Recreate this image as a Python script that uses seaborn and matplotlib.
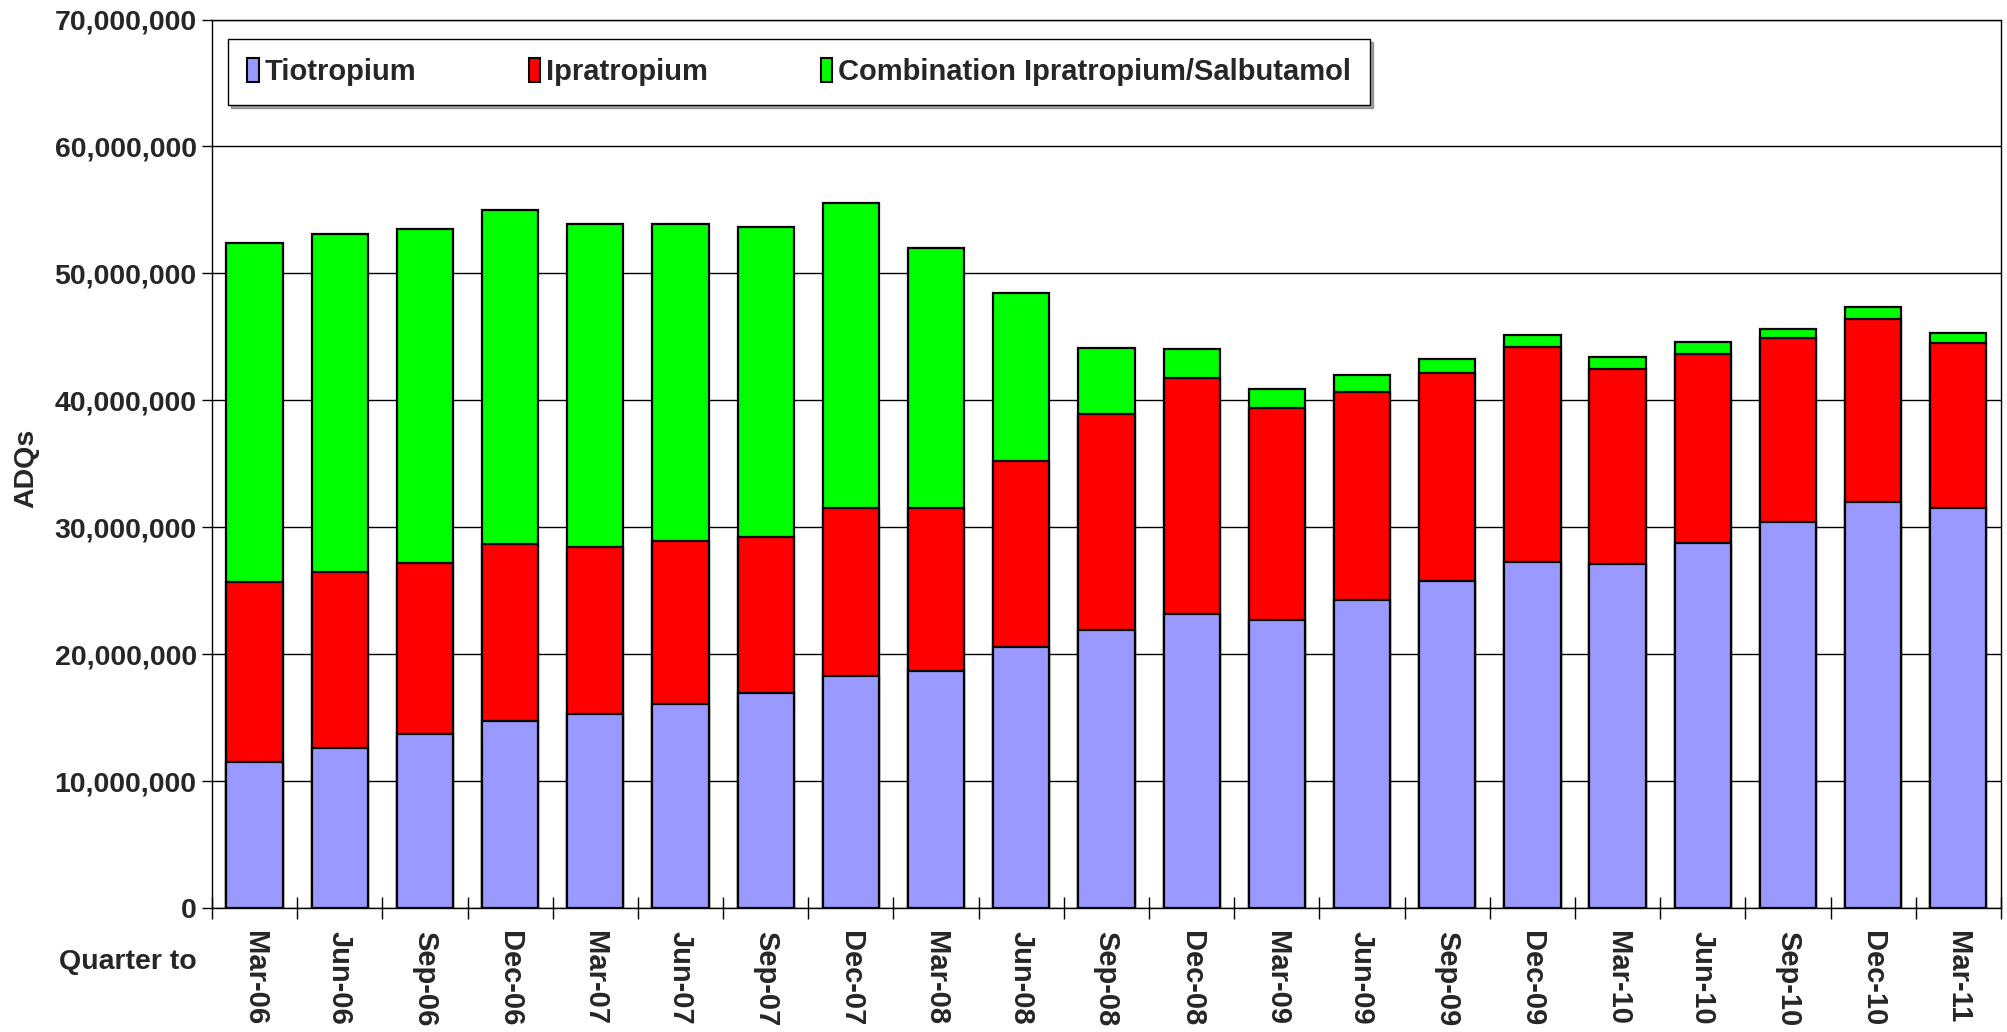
import numpy as np
import pandas as pd
import matplotlib
matplotlib.use("Agg")
import matplotlib.pyplot as plt
from matplotlib.patches import Patch
from matplotlib.ticker import FuncFormatter, FixedLocator
import seaborn as sns

# Quarterly ADQs
quarters = ["Mar-06", "Jun-06", "Sep-06", "Dec-06", "Mar-07", "Jun-07", "Sep-07",
            "Dec-07", "Mar-08", "Jun-08", "Sep-08", "Dec-08", "Mar-09", "Jun-09",
            "Sep-09", "Dec-09", "Mar-10", "Jun-10", "Sep-10", "Dec-10", "Mar-11"]
tiotropium = [11.5, 12.6, 13.7, 14.8, 15.35, 16.1, 17.0, 18.3, 18.7, 20.6, 21.9,
              23.2, 22.7, 24.3, 25.8, 27.3, 27.1, 28.8, 30.4, 32.0, 31.5]
ipratropium = [14.2, 13.9, 13.5, 13.9, 13.15, 12.8, 12.25, 13.2, 12.8, 14.6, 17.0,
               18.6, 16.7, 16.4, 16.4, 16.9, 15.4, 14.85, 14.55, 14.4, 13.05]
combination = [26.7, 26.6, 26.3, 26.3, 25.4, 25.0, 24.45, 24.05, 20.5, 13.3, 5.2,
               2.25, 1.5, 1.3, 1.1, 0.95, 0.95, 0.95, 0.7, 0.95, 0.75]

series_names = ["Tiotropium", "Ipratropium", "Combination Ipratropium/Salbutamol"]
series_colors = ["#9999FF", "#FF0000", "#00FF00"]

df = pd.DataFrame({
    "quarter": quarters,
    "tio": np.array(tiotropium) * 1e6,
    "ipr": np.array(ipratropium) * 1e6,
    "comb": np.array(combination) * 1e6,
})
df["tio_ipr"] = df["tio"] + df["ipr"]
df["total"] = df["tio_ipr"] + df["comb"]

sns.set_style("white")
narrow = ["Liberation Sans Narrow", "Liberation Sans", "DejaVu Sans"]
wide = ["Liberation Sans", "DejaVu Sans"]
plt.rcParams["font.family"] = narrow

fig = plt.figure(figsize=(20.07, 10.32), dpi=100)
ax = fig.add_axes([0.1056, 0.1197, 0.8914, 0.8614])

# stacked bars drawn as cumulative layers
for col, color in [("total", series_colors[2]), ("tio_ipr", series_colors[1]), ("tio", series_colors[0])]:
    sns.barplot(data=df, x="quarter", y=col, color=color, saturation=1,
                edgecolor="black", linewidth=1.6, width=0.66, ax=ax, zorder=3)

ax.set_xlim(-0.5, len(quarters) - 0.5)
ax.set_ylim(0, 70e6)
ax.set_yticks(np.arange(0, 70e6 + 1, 10e6))
ax.yaxis.set_major_formatter(FuncFormatter(lambda v, p: f"{int(v):,}"))
ax.grid(axis="y", color="black", linewidth=1.0, zorder=0)
ax.grid(axis="x", visible=False)
ax.set_axisbelow(True)
for s in ax.spines.values():
    s.set_visible(True)
    s.set_color("black")
    s.set_linewidth(1.0)

ax.tick_params(axis="y", which="major", direction="out", length=7, width=1,
               color="black", left=True, pad=4, labelsize=20.5)
for lab in ax.get_yticklabels():
    lab.set_fontweight("bold")
    lab.set_family(narrow)

ax.tick_params(axis="x", which="major", length=0, pad=16)
ax.set_xticks(range(len(quarters)))
ax.set_xticklabels(quarters, rotation=-90, fontsize=21, fontweight="bold",
                   family=wide, va="top", ha="center")
ax.xaxis.set_minor_locator(FixedLocator(np.arange(-0.5, len(quarters), 1.0)))
ax.tick_params(axis="x", which="minor", direction="inout", length=16, width=1,
               color="black", bottom=True)

ax.set_xlabel("")
ax.set_ylabel("")
fig.text(0.013, 0.5465, "ADQs", rotation=90, ha="center", va="center",
         fontsize=20.5, fontweight="bold", family=narrow)
fig.text(0.098, 0.068, "Quarter to", ha="right", va="center",
         fontsize=20.5, fontweight="bold", family=narrow)

handles = [Patch(facecolor=c, edgecolor="black", linewidth=1.5) for c in series_colors]
leg = ax.legend(handles, series_names, ncol=3, loc="lower left", mode="expand",
                bbox_to_anchor=(0.1136, 0.898, 0.569, 0.063),
                bbox_transform=fig.transFigure, frameon=True, fancybox=False,
                shadow=True, edgecolor="black", framealpha=1,
                handlelength=0.4, handleheight=0.9, handletextpad=0.2,
                borderpad=0.65, borderaxespad=0,
                prop={"family": narrow, "weight": "bold", "size": 21})
leg.get_frame().set_linewidth(1.0)

fig.savefig("out.png", dpi=100)
plt.close(fig)
